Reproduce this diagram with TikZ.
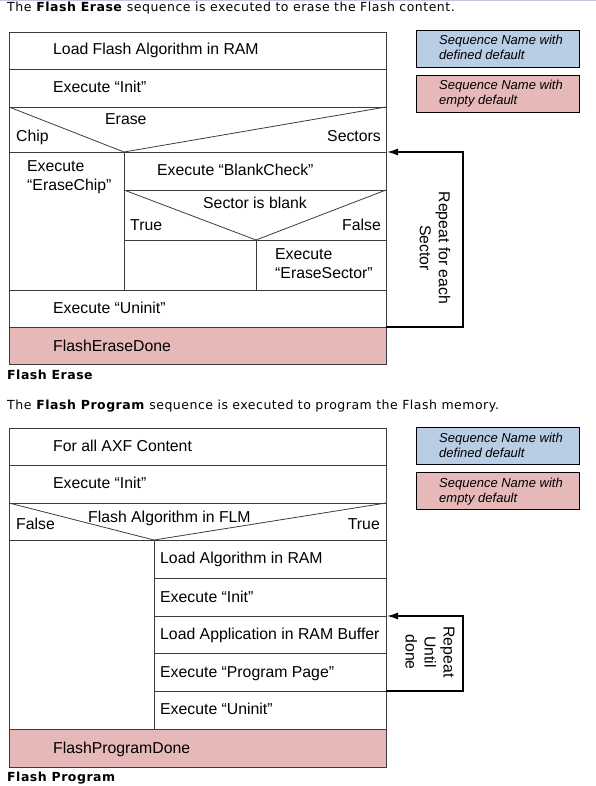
\documentclass[tikz,border=0pt]{standalone}
\usepackage{fontspec}
\setmainfont{Liberation Sans}
\newfontfamily\capfont[LetterSpace=4]{DejaVu Sans}
\usetikzlibrary{arrows.meta}
\definecolor{defblue}{HTML}{B9CDE5}
\definecolor{emptypink}{HTML}{E6B9B8}
\definecolor{framegray}{HTML}{3C3C3C}
\definecolor{rulegray}{HTML}{C0C8E0}
\tikzset{>={Latex[length=11pt,width=7pt]}}
\tikzset{
  font={\fontsize{15.8pt}{19pt}\selectfont}}
\tikzset{
  txt/.style={inner sep=0pt, anchor=base west, align=left},
  txtr/.style={inner sep=0pt, anchor=base east},
  legbox/.style={draw=black, line width=0.8pt, minimum width=163pt, minimum height=37pt, anchor=north west},
  legtxt/.style={inner sep=0pt, anchor=base west, align=left, font={\fontsize{13pt}{15pt}\selectfont\itshape}},
  captxt/.style={inner sep=0pt, anchor=base west, font={\fontsize{12.5pt}{15pt}\selectfont\capfont}},
  rptline/.style={->, line width=1.5pt, black},
  rpttxt/.style={rotate=-90, align=center, inner sep=0pt},
}

\begin{document}
\begin{tikzpicture}[x=1pt, y=-1pt, frame/.style={draw=framegray, line width=0.8pt}]
     \useasboundingbox (0,0) rectangle (596,786);
     \draw[rulegray] (0,0.5) -- (596,0.5);

     %% Flash Erase
     \node[captxt] (introE) at (7,12) {The \textbf{Flash Erase} sequence is executed to erase the Flash content.};
     \node[legbox, fill=defblue] (legdefE) at (416,30) {};
     \node[legbox, fill=emptypink] (legemptyE) at (416,75) {};
     \node[legtxt] (legdefEtxt) at (439,60) {Sequence Name with\\defined default};
     \node[legtxt] (legemptyEtxt) at (439,105) {Sequence Name with\\empty default};

     \fill[emptypink] (9,327) rectangle (386,364);
     \draw[frame] (9,32) rectangle (386,364);
     \draw[frame] (9,69) -- (386,69);
     \draw[frame] (9,107) -- (386,107);
     \draw[frame] (9,152) -- (386,152);
     \draw[frame] (9,290) -- (386,290);
     \draw[frame] (9,327) -- (386,327);
     \draw[frame] (9,107) -- (124,152) -- (386,107);
     \draw[frame] (124,152) -- (124,290);
     \draw[frame] (124,190) -- (386,190);
     \draw[frame] (124,190) -- (256,240) -- (386,190);
     \draw[frame] (124,240) -- (386,240);
     \draw[frame] (256,240) -- (256,290);

     \node[txt] (loadalgE) at (53,55) {Load Flash Algorithm in RAM};
     \node[txt] (initE) at (53,93) {Execute “Init”};
     \node[txt] (erase) at (105,125) {Erase};
     \node[txt] (chip) at (16,142) {Chip};
     \node[txtr] (sectors) at (381,142) {Sectors};
     \node[txt] (erasechip) at (27,191) {Execute\\“EraseChip”};
     \node[txt] (blankcheck) at (157,176) {Execute “BlankCheck”};
     \node[txt] (blank) at (203,209) {Sector is blank};
     \node[txt] (trueE) at (130,230) {True};
     \node[txtr] (falseE) at (381,230) {False};
     \node[txt] (erasesector) at (275,278) {Execute\\“EraseSector”};
     \node[txt] (uninitE) at (53,313) {Execute “Uninit”};
     \node[txt] (erasedone) at (53,351) {FlashEraseDone};

     \coordinate (rptE-a) at (386,327);
     \coordinate (rptE-b) at (463,327);
     \coordinate (rptE-c) at (463,152);
     \coordinate (rptE-d) at (387,152);
     \draw[rptline] (rptE-a) -- (rptE-b) -- (rptE-c) -- (rptE-d);
     \node[rpttxt] (rptEtxt) at (435,248) {Repeat for each\\Sector};

     \node[captxt, font={\fontsize{12.5pt}{15pt}\selectfont\capfont\bfseries}] (capE) at (7,379) {Flash Erase};

     %% Flash Program
     \node[captxt] (introP) at (7,409) {The \textbf{Flash Program} sequence is executed to program the Flash memory.};
     \node[legbox, fill=defblue] (legdefP) at (416,427) {};
     \node[legbox, fill=emptypink] (legemptyP) at (416,472) {};
     \node[legtxt] (legdefPtxt) at (439,457) {Sequence Name with\\defined default};
     \node[legtxt] (legemptyPtxt) at (439,502) {Sequence Name with\\empty default};

     \fill[emptypink] (9,729) rectangle (386,767);
     \draw[frame] (9,428) rectangle (386,767);
     \draw[frame] (9,465) -- (386,465);
     \draw[frame] (9,503) -- (386,503);
     \draw[frame] (9,540) -- (386,540);
     \draw[frame] (9,729) -- (386,729);
     \draw[frame] (9,503) -- (154,540) -- (386,503);
     \draw[frame] (154,540) -- (154,729);
     \draw[frame] (154,578) -- (386,578);
     \draw[frame] (154,616) -- (386,616);
     \draw[frame] (154,653) -- (386,653);
     \draw[frame] (154,691) -- (386,691);

     \node[txt] (axf) at (53,451) {For all AXF Content};
     \node[txt] (initP) at (53,488) {Execute “Init”};
     \node[txt] (falseP) at (16,529) {False};
     \node[txt] (flm) at (88,522) {Flash Algorithm in FLM};
     \node[txtr] (trueP) at (380,529) {True};
     \node[txt] (loadalgP) at (160,563) {Load Algorithm in RAM};
     \node[txt] (initP2) at (160,602) {Execute “Init”};
     \node[txt] (loadapp) at (160,639) {Load Application in RAM Buffer};
     \node[txt] (progpage) at (160,677) {Execute “Program Page”};
     \node[txt] (uninitP) at (160,714) {Execute “Uninit”};
     \node[txt] (progdone) at (53,753) {FlashProgramDone};

     \coordinate (rptP-a) at (386,691);
     \coordinate (rptP-b) at (463,691);
     \coordinate (rptP-c) at (463,616);
     \coordinate (rptP-d) at (387,616);
     \draw[rptline] (rptP-a) -- (rptP-b) -- (rptP-c) -- (rptP-d);
     \node[rpttxt] (rptPtxt) at (430,652) {Repeat\\Until\\done};

     \node[captxt, font={\fontsize{12.5pt}{15pt}\selectfont\capfont\bfseries}] (capP) at (7,781) {Flash Program};
\end{tikzpicture}
\end{document}
